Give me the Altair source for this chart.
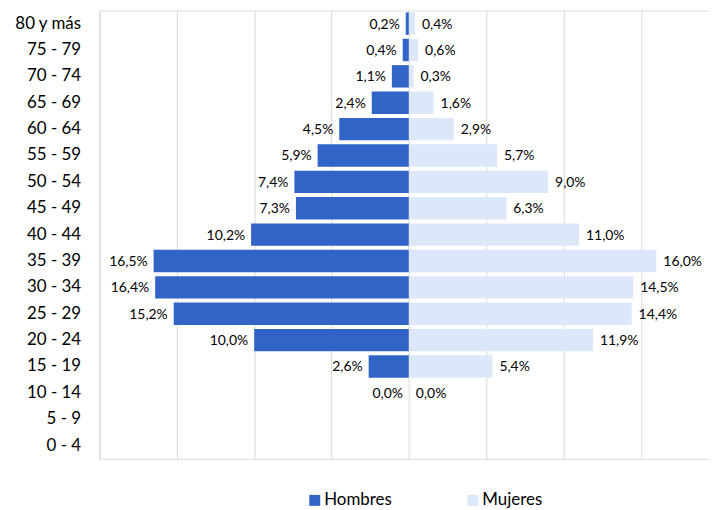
import altair as alt
import pandas as pd

ages = ["80 y más", "75 - 79", "70 - 74", "65 - 69", "60 - 64", "55 - 59", "50 - 54",
        "45 - 49", "40 - 44", "35 - 39", "30 - 34", "25 - 29", "20 - 24", "15 - 19",
        "10 - 14", "5 - 9", "0 - 4"]
hombres = [0.2, 0.4, 1.1, 2.4, 4.5, 5.9, 7.4, 7.3, 10.2, 16.5, 16.4, 15.2, 10.0, 2.6, 0.0, None, None]
mujeres = [0.4, 0.6, 0.3, 1.6, 2.9, 5.7, 9.0, 6.3, 11.0, 16.0, 14.5, 14.4, 11.9, 5.4, 0.0, None, None]
series = ["Hombres", "Mujeres"]
colors = ["#3264C8", "#DDE7FA"]
grid_ticks = [-20, -15, -10, -5, 0, 5, 10, 15]


def fmt(v):
    return f"{v:.1f}%".replace(".", ",")


rows = []
for a, h, m in zip(ages, hombres, mujeres):
    if h is not None:
        rows.append({"age": a, "sexo": "Hombres", "v": -h, "label": fmt(h)})
    if m is not None:
        rows.append({"age": a, "sexo": "Mujeres", "v": m, "label": fmt(m)})
df = pd.DataFrame(rows)

FONT = "Lato"

x = alt.X("v:Q",
          scale=alt.Scale(domain=[-20, 19.4], nice=False, zero=False),
          axis=alt.Axis(values=grid_ticks, labels=False, ticks=False, domain=False,
                        grid=True, gridColor="#D9D9D9", gridWidth=1, title=None))
y = alt.Y("age:N", sort=ages,
          scale=alt.Scale(domain=ages, paddingInner=0.15, paddingOuter=0.075),
          axis=alt.Axis(title=None, ticks=False, domain=False, labelPadding=19,
                        labelFontSize=17, labelFont=FONT, labelColor="#000000"))

base = alt.Chart(df)

bars = base.mark_bar().encode(
    x=x, y=y,
    color=alt.Color("sexo:N",
                    scale=alt.Scale(domain=series, range=colors),
                    legend=alt.Legend(title=None, orient="none", legendX=208, legendY=484,
                                      direction="horizontal", symbolType="square",
                                      symbolSize=121, symbolStrokeWidth=0,
                                      labelFontSize=17, labelFont=FONT, labelColor="#000000",
                                      labelOffset=1, columnPadding=72))
)

text_h = base.transform_filter(alt.datum.sexo == "Hombres").mark_text(
    align="right", baseline="middle", dx=-6, dy=1, fontSize=14, font=FONT, color="#000000"
).encode(x=x, y=y, text="label:N")

text_m = base.transform_filter(alt.datum.sexo == "Mujeres").mark_text(
    align="left", baseline="middle", dx=7, dy=1, fontSize=14, font=FONT, color="#000000"
).encode(x=x, y=y, text="label:N")

chart = alt.layer(bars, text_h, text_m).properties(
    width=613, height=451,
    autosize=alt.AutoSizeParams(type="none"),
    padding={"left": 92, "top": 1, "right": 0, "bottom": 48},
).configure_view(stroke=None).configure(background="white")

chart.save("out.html", embed_options={"renderer": "svg", "actions": False})
